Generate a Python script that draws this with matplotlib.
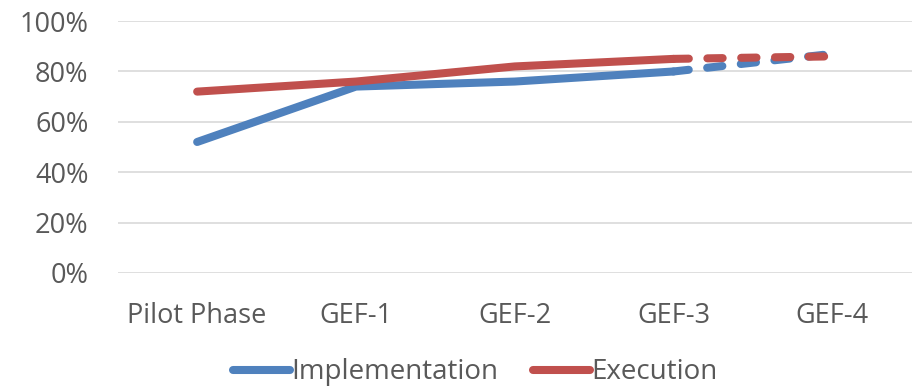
import matplotlib.pyplot as plt
from matplotlib.ticker import PercentFormatter

plt.rcParams['font.family'] = ['Open Sans', 'DejaVu Sans']

categories = ['Pilot Phase', 'GEF-1', 'GEF-2', 'GEF-3', 'GEF-4']
implementation = [52, 74, 76, 80, 87]
execution = [72, 76, 82, 85, 86]

blue = '#4f81bd'
red = '#c0504d'
grey = '#595959'

fig = plt.figure(figsize=(9.2, 3.91), dpi=100)
ax = fig.add_axes([0.128, 0.302, 0.863, 0.644])

x = list(range(len(categories)))
lw = 5.8
dash = (0, (1.9, 2.3))

for vals, col, name in [(implementation, blue, 'Implementation'), (execution, red, 'Execution')]:
    ax.plot(x[:4], vals[:4], color=col, lw=lw, solid_capstyle='round',
            solid_joinstyle='round', label=name)
    ax.plot(x[3:], vals[3:], color=col, lw=lw, linestyle=dash,
            dash_capstyle='round')

ax.set_xlim(-0.5, len(categories) - 0.5)
ax.set_ylim(0, 100)
ax.set_yticks(range(0, 101, 20))
ax.yaxis.set_major_formatter(PercentFormatter(decimals=0))
ax.set_xticks(x)
ax.set_xticklabels(categories)
ax.grid(axis='y', color='#d9d9d9', lw=1.2)
ax.set_axisbelow(True)
for s in ax.spines.values():
    s.set_visible(False)
ax.tick_params(length=0, labelsize=19.5, colors=grey)
ax.tick_params(axis='y', pad=21)
ax.tick_params(axis='x', pad=21)

leg = ax.legend(loc='center', bbox_to_anchor=(0.45, -0.395), ncol=2,
                frameon=False, fontsize=20, handlelength=2.05,
                handletextpad=0.05, columnspacing=1.25, borderpad=0.1)
for t in leg.get_texts():
    t.set_color(grey)

fig.savefig('out.png', dpi=100)
